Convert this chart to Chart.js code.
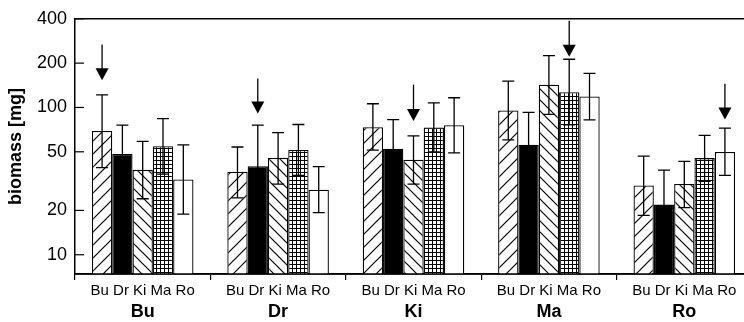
<!DOCTYPE html>
<html>
<head>
<meta charset="utf-8">
<script src="https://cdn.jsdelivr.net/npm/chart.js@4.4.1/dist/chart.umd.min.js"></script>
<style>
  html, body { margin: 0; padding: 0; background: #fff; overflow: hidden; }
  #wrap { width: 744px; height: 322px; overflow: hidden; }
</style>
</head>
<body>
<div id="wrap"><canvas id="biomassChart" width="760" height="322"></canvas></div>
<script>
// Groups along the x axis and the five series inside each group
const groups = ['Bu', 'Dr', 'Ki', 'Ma', 'Ro'];
const seriesNames = ['Bu', 'Dr', 'Ki', 'Ma', 'Ro'];

// Mean biomass [mg] per series, one value per group
const buValues = [69.2, 36.6, 73.5, 95.3, 29.5];
const drValues = [48.4, 39.9, 52.5, 55.8, 21.9];
const kiValues = [37.7, 45.5, 44.2, 142.8, 30.2];
const maValues = [54.5, 51.5, 73.2, 127, 45.3];
const roValues = [32.4, 27.6, 75.8, 118.9, 49.9];

// Error bar ends
const buUpper = [121.9, 53.9, 106, 151, 46.7];
const buLower = [39.1, 24.3, 51.4, 60.3, 18.5];
const drUpper = [75.8, 75.8, 82.7, 92.5, 37.5];
const drLower = [31, 21, 33, 34, 13];
const kiUpper = [58.8, 67.5, 64.1, 224.8, 43.0];
const kiLower = [24.0, 30.2, 30.2, 89.7, 20.9];
const maUpper = [84.0, 76.6, 107.3, 212.6, 64.7];
const maLower = [35.3, 34.6, 49.9, 76.3, 31.5];
const roUpper = [55.8, 39.7, 116.4, 170.6, 72.4];
const roLower = [18.9, 19.3, 49.2, 82.3, 34.6];

// Arrows marking the home series of each group (start and tip value)
const arrowTop = [268, 157, 143, 388, 145];
const arrowTip = [153, 91, 81, 221, 83];

// y axis ticks
const yTicks = [10, 20, 50, 100, 200, 400];

const allValues = [buValues, drValues, kiValues, maValues, roValues];
const allUpper = [buUpper, drUpper, kiUpper, maUpper, roUpper];
const allLower = [buLower, drLower, kiLower, maLower, roLower];

Chart.defaults.font.family = "'Liberation Sans', Arial, sans-serif";
Chart.defaults.color = '#000';

const canvas = document.getElementById('biomassChart');
const ctx = canvas.getContext('2d');

// Fill patterns for the bars
function makePattern(size, draw) {
    const c = document.createElement('canvas');
    c.width = size;
    c.height = size;
    const g = c.getContext('2d');
    g.fillStyle = '#fff';
    g.fillRect(0, 0, size, size);
    g.strokeStyle = '#000';
    g.fillStyle = '#000';
    g.lineWidth = 1.2;
    draw(g, size);
    return ctx.createPattern(c, 'repeat');
}

const hatchForward = makePattern(13, (g, s) => {
    g.beginPath();
    g.moveTo(0, s); g.lineTo(s, 0);
    g.moveTo(-2, 2); g.lineTo(2, -2);
    g.moveTo(s - 2, s + 2); g.lineTo(s + 2, s - 2);
    g.stroke();
});
const hatchBack = makePattern(11, (g, s) => {
    g.beginPath();
    g.moveTo(0, 0); g.lineTo(s, s);
    g.moveTo(-2, s - 2); g.lineTo(2, s + 2);
    g.moveTo(s - 2, -2); g.lineTo(s + 2, 2);
    g.stroke();
});
const gridFill = makePattern(4, (g) => {
    g.fillRect(0, 0, 4, 1);
    g.fillRect(0, 0, 1, 4);
});
const fills = [hatchForward, '#000', hatchBack, gridFill, '#fff'];

// Error bars, arrows, inner tick marks, frame lines and bar labels
const extras = {
    id: 'extras',
    afterDatasetsDraw(chart) {
        const c = chart.ctx;
        const x = chart.scales.x;
        const y = chart.scales.y;
        const area = chart.chartArea;
        c.save();
        c.strokeStyle = '#000';
        c.fillStyle = '#000';

        // error bars
        c.lineWidth = 1.3;
        seriesNames.forEach((name, i) => {
            chart.getDatasetMeta(i).data.forEach((bar, j) => {
                const yHi = y.getPixelForValue(allUpper[i][j]);
                const yLo = y.getPixelForValue(allLower[i][j]);
                c.beginPath();
                c.moveTo(bar.x, yHi); c.lineTo(bar.x, yLo);
                c.moveTo(bar.x - 6, yHi); c.lineTo(bar.x + 6, yHi);
                c.moveTo(bar.x - 6, yLo); c.lineTo(bar.x + 6, yLo);
                c.stroke();
            });
        });

        // arrows over the home series
        groups.forEach((g, j) => {
            const i = seriesNames.indexOf(g);
            const bar = chart.getDatasetMeta(i).data[j];
            const top = y.getPixelForValue(arrowTop[j]);
            const tip = y.getPixelForValue(arrowTip[j]);
            c.beginPath();
            c.moveTo(bar.x, top); c.lineTo(bar.x, tip - 10);
            c.stroke();
            c.beginPath();
            c.moveTo(bar.x - 6.5, tip - 12);
            c.lineTo(bar.x + 6.5, tip - 12);
            c.lineTo(bar.x, tip);
            c.closePath();
            c.fill();
        });

        // tick marks inside the plot
        c.lineWidth = 1.2;
        yTicks.forEach(v => {
            const py = y.getPixelForValue(v);
            c.beginPath();
            c.moveTo(area.left, py); c.lineTo(area.left + 9, py);
            c.stroke();
        });

        // frame: top line and bottom axis line over the bars
        c.lineWidth = 1.5;
        c.beginPath();
        c.moveTo(area.left, area.top); c.lineTo(area.right, area.top);
        c.moveTo(area.left - 1, area.bottom); c.lineTo(area.right, area.bottom);
        c.stroke();

        // series names under each group
        c.font = "15px 'Liberation Sans', Arial, sans-serif";
        c.textAlign = 'center';
        c.textBaseline = 'alphabetic';
        groups.forEach((g, j) => {
            c.fillText(seriesNames.join(' '), x.getPixelForValue(j), area.bottom + 21);
        });
        c.restore();
    }
};

new Chart(ctx, {
    type: 'bar',
    data: {
        labels: groups,
        datasets: seriesNames.map((name, i) => ({
            label: name,
            data: allValues[i],
            backgroundColor: fills[i],
            borderColor: '#000',
            borderWidth: 1.3,
            categoryPercentage: 0.75,
            barPercentage: 1.0
        }))
    },
    options: {
        responsive: false,
        animation: false,
        layout: { padding: { top: 13, right: 8, left: 0, bottom: 0 } },
        plugins: {
            legend: { display: false },
            tooltip: { enabled: false }
        },
        scales: {
            x: {
                grid: { display: true, drawOnChartArea: false, offset: true, tickLength: 6, color: '#000', lineWidth: 1.2 },
                border: { display: true, color: '#000', width: 1.5 },
                ticks: { padding: 21, color: '#000', font: { size: 18, weight: 'bold' } },
                afterFit: s => { s.height = 48; }
            },
            y: {
                type: 'logarithmic',
                min: 7.4,
                max: 400,
                afterBuildTicks: s => { s.ticks = yTicks.map(v => ({ value: v })); },
                afterFit: s => { s.width = 75; },
                grid: { display: false, drawTicks: false },
                border: { display: true, color: '#000', width: 1.5 },
                ticks: { padding: 8, color: '#000', font: { size: 18 }, callback: v => String(v) },
                title: {
                    display: true,
                    text: 'biomass [mg]',
                    color: '#000',
                    font: { size: 18, weight: 'bold' },
                    padding: { top: 5, bottom: 0 }
                }
            }
        }
    },
    plugins: [extras]
});
</script>
</body>
</html>
